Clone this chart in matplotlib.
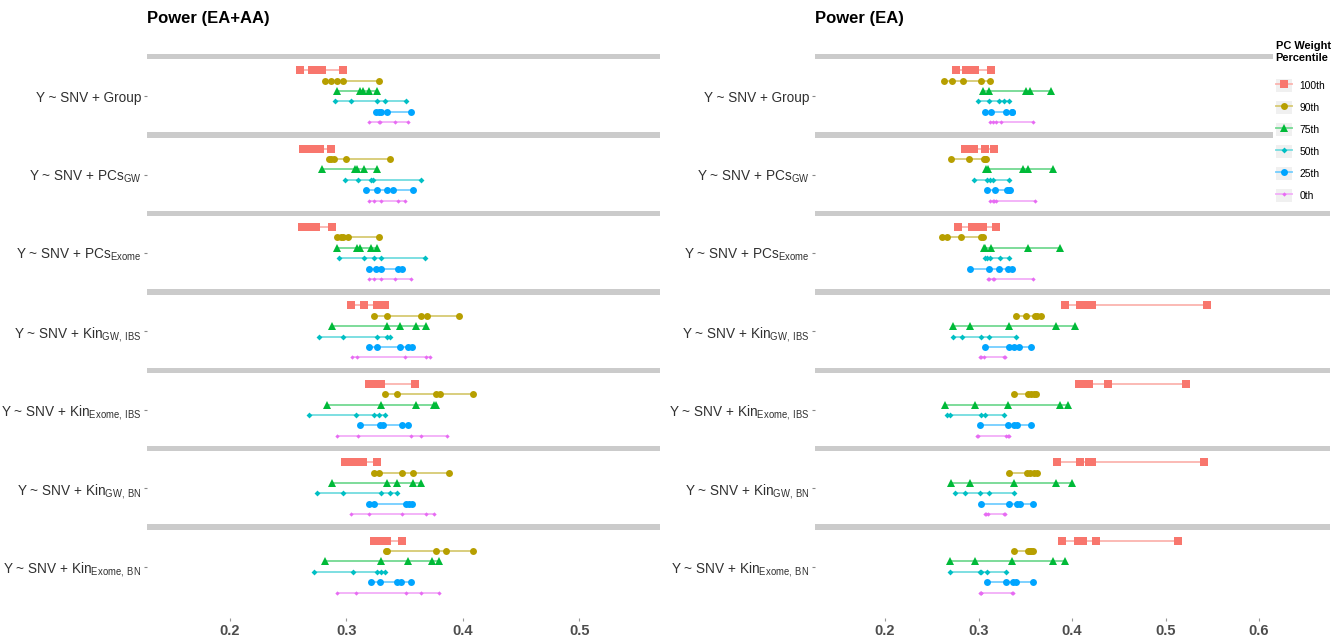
import numpy as np
import matplotlib
matplotlib.use("Agg")
import matplotlib.pyplot as plt
from matplotlib.lines import Line2D
from matplotlib.patches import Rectangle
from matplotlib.legend_handler import HandlerLine2D
from matplotlib.colors import to_rgb

plt.rcParams['font.family'] = ['Liberation Sans', 'DejaVu Sans']
plt.rcParams['mathtext.fontset'] = 'custom'
plt.rcParams['mathtext.rm'] = 'Liberation Sans'

# === Daten ===
models = [
    'Y ~ SNV + Group',
    r'Y ~ SNV + PC$\mathregular{s_{GW}}$',
    r'Y ~ SNV + PC$\mathregular{s_{Exome}}$',
    r'Y ~ SNV + Ki$\mathregular{n_{GW,\,IBS}}$',
    r'Y ~ SNV + Ki$\mathregular{n_{Exome,\,IBS}}$',
    r'Y ~ SNV + Ki$\mathregular{n_{GW,\,BN}}$',
    r'Y ~ SNV + Ki$\mathregular{n_{Exome,\,BN}}$',
]
percentiles = ['100th', '90th', '75th', '50th', '25th', '0th']

# Power (EA+AA): je Modell 5 Werte
ea_aa_100th = [[0.260, 0.270, 0.274, 0.279, 0.297], [0.263, 0.269, 0.273, 0.277, 0.287],
               [0.262, 0.266, 0.270, 0.274, 0.288], [0.304, 0.315, 0.326, 0.329, 0.333],
               [0.319, 0.323, 0.327, 0.330, 0.359], [0.299, 0.305, 0.310, 0.314, 0.326],
               [0.324, 0.327, 0.331, 0.335, 0.348]]
ea_aa_90th = [[0.282, 0.287, 0.292, 0.297, 0.328], [0.285, 0.287, 0.289, 0.300, 0.337],
              [0.292, 0.295, 0.297, 0.301, 0.328], [0.324, 0.335, 0.364, 0.369, 0.397],
              [0.333, 0.343, 0.377, 0.380, 0.409], [0.324, 0.328, 0.348, 0.357, 0.388],
              [0.334, 0.335, 0.377, 0.385, 0.409]]
ea_aa_75th = [[0.292, 0.312, 0.314, 0.319, 0.326], [0.279, 0.307, 0.309, 0.315, 0.326],
              [0.292, 0.309, 0.312, 0.321, 0.326], [0.288, 0.335, 0.346, 0.360, 0.368],
              [0.283, 0.330, 0.360, 0.375, 0.377], [0.288, 0.335, 0.343, 0.357, 0.364],
              [0.282, 0.330, 0.353, 0.373, 0.379]]
ea_aa_50th = [[0.290, 0.304, 0.326, 0.333, 0.351], [0.299, 0.310, 0.321, 0.323, 0.364],
              [0.294, 0.315, 0.324, 0.330, 0.367], [0.276, 0.297, 0.326, 0.335, 0.337],
              [0.268, 0.308, 0.324, 0.328, 0.333], [0.275, 0.297, 0.330, 0.337, 0.343],
              [0.272, 0.306, 0.326, 0.330, 0.333]]
ea_aa_25th = [[0.325, 0.328, 0.330, 0.335, 0.355], [0.317, 0.326, 0.335, 0.340, 0.357],
              [0.319, 0.325, 0.330, 0.344, 0.348], [0.319, 0.326, 0.346, 0.353, 0.356],
              [0.312, 0.329, 0.331, 0.348, 0.353], [0.319, 0.324, 0.351, 0.354, 0.356],
              [0.321, 0.329, 0.343, 0.347, 0.355]]
ea_aa_0th = [[0.319, 0.328, 0.329, 0.342, 0.353], [0.319, 0.324, 0.330, 0.344, 0.350],
             [0.319, 0.324, 0.330, 0.342, 0.355], [0.305, 0.309, 0.350, 0.368, 0.372],
             [0.292, 0.310, 0.355, 0.364, 0.386], [0.304, 0.319, 0.348, 0.368, 0.375],
             [0.292, 0.308, 0.351, 0.364, 0.379]]

# Power (EA)
ea_100th = [[0.276, 0.287, 0.292, 0.296, 0.313], [0.285, 0.289, 0.295, 0.307, 0.317],
            [0.278, 0.293, 0.299, 0.305, 0.319], [0.393, 0.409, 0.416, 0.421, 0.544],
            [0.407, 0.412, 0.418, 0.438, 0.522], [0.384, 0.409, 0.418, 0.421, 0.541],
            [0.389, 0.406, 0.412, 0.426, 0.513]]
ea_90th = [[0.263, 0.272, 0.283, 0.303, 0.312], [0.271, 0.290, 0.306, 0.307, 0.308],
           [0.261, 0.266, 0.281, 0.303, 0.305], [0.340, 0.351, 0.360, 0.363, 0.367],
           [0.338, 0.353, 0.356, 0.359, 0.361], [0.333, 0.352, 0.355, 0.359, 0.362],
           [0.338, 0.353, 0.355, 0.356, 0.358]]
ea_75th = [[0.305, 0.311, 0.351, 0.355, 0.378], [0.308, 0.310, 0.348, 0.353, 0.380],
           [0.306, 0.307, 0.313, 0.353, 0.387], [0.273, 0.291, 0.333, 0.383, 0.403],
           [0.264, 0.296, 0.331, 0.387, 0.396], [0.271, 0.291, 0.338, 0.383, 0.400],
           [0.269, 0.296, 0.336, 0.380, 0.393]]
ea_50th = [[0.299, 0.311, 0.322, 0.327, 0.333], [0.295, 0.309, 0.312, 0.316, 0.333],
           [0.307, 0.309, 0.312, 0.323, 0.333], [0.273, 0.282, 0.303, 0.311, 0.340],
           [0.266, 0.270, 0.303, 0.307, 0.327], [0.275, 0.286, 0.302, 0.311, 0.338],
           [0.270, 0.302, 0.303, 0.309, 0.329]]
ea_25th = [[0.307, 0.313, 0.329, 0.336, 0.336], [0.309, 0.318, 0.330, 0.333, 0.334],
           [0.291, 0.311, 0.322, 0.331, 0.336], [0.307, 0.333, 0.338, 0.343, 0.356],
           [0.302, 0.331, 0.338, 0.341, 0.356], [0.303, 0.333, 0.341, 0.344, 0.358],
           [0.309, 0.329, 0.337, 0.340, 0.358]]
ea_0th = [[0.312, 0.316, 0.319, 0.324, 0.358], [0.312, 0.315, 0.317, 0.319, 0.360],
          [0.310, 0.311, 0.315, 0.317, 0.358], [0.302, 0.303, 0.306, 0.327, 0.328],
          [0.298, 0.299, 0.329, 0.332, 0.333], [0.307, 0.308, 0.310, 0.327, 0.328],
          [0.302, 0.303, 0.303, 0.336, 0.337]]

ea_aa_ticks = [0.2, 0.3, 0.4, 0.5]
ea_ticks = [0.2, 0.3, 0.4, 0.5, 0.6]

# === Stil ===
colors = ['#F8766D', '#B79F00', '#00BA38', '#00BFC4', '#00A5FF', '#E76BF3']
markers = ['s', 'o', '^', 'D', 'o', 'D']
msizes = [5.2, 5.0, 5.6, 3.0, 5.0, 2.2]

FACET = 7.54      # Abstand zwischen Facetten (in Zeilen)
FIRST_ROW = 1.30  # Abstand Streifen -> erste Zeile
STRIP_H = 0.53
Y_TOP = -STRIP_H / 2
Y_BOTTOM = Y_TOP + 54.24


def lighten(c, amount=0.45):
    r, g, b = to_rgb(c)
    return (r + (1 - r) * amount, g + (1 - g) * amount, b + (1 - b) * amount)


class KeyHandler(HandlerLine2D):
    """Legendenschluessel mit hellgrauem Hintergrund (wie ggplot)."""

    def create_artists(self, legend, orig_handle, xdescent, ydescent,
                       width, height, fontsize, trans):
        bg = Rectangle((-xdescent, -ydescent), width, height,
                       facecolor='#F0F0F0', edgecolor='none', transform=trans)
        arts = super().create_artists(legend, orig_handle, xdescent, ydescent,
                                      width, height, fontsize, trans)
        return [bg] + list(arts)


def draw_panel(ax, series, xlim, ticks):
    for f in range(len(models)):
        ax.axhspan(f * FACET - STRIP_H / 2, f * FACET + STRIP_H / 2,
                   color='#CBCBCB', lw=0, zorder=1)
    for r, vals in enumerate(series):
        for f, row in enumerate(vals):
            y = f * FACET + FIRST_ROW + r
            ax.plot([min(row), max(row)], [y, y], color=lighten(colors[r]),
                    lw=1.3, zorder=2, solid_capstyle='butt')
            ax.plot(row, [y] * len(row), linestyle='none', marker=markers[r],
                    ms=msizes[r], color=colors[r], mew=0, zorder=3)

    ax.set_xlim(*xlim)
    ax.set_ylim(Y_BOTTOM, Y_TOP)
    ax.set_yticks([f * FACET + FIRST_ROW + 2.5 for f in range(len(models))])
    ax.set_yticklabels(models)
    ax.set_xticks(ticks)
    ax.set_xticklabels([f'{t:.1f}' for t in ticks], fontweight='bold')
    ax.tick_params(axis='y', length=2.5, width=0.8, color='#888888', pad=1.5,
                   labelsize=9.8, labelcolor='#303030')
    ax.tick_params(axis='x', length=2.5, width=0.8, color='#999999', pad=2,
                   labelsize=10.5, labelcolor='#4D4D4D')
    for s in ax.spines.values():
        s.set_visible(False)


def main() -> None:
    W, H = 1344, 644
    fig = plt.figure(figsize=(W / 100, H / 100), dpi=100)

    top_px, bot_px = 53.9, 618.0
    ax1 = fig.add_axes([147 / W, 1 - bot_px / H, 513 / W, (bot_px - top_px) / H])
    ax2 = fig.add_axes([815 / W, 1 - bot_px / H, 515 / W, (bot_px - top_px) / H])

    draw_panel(ax1, [ea_aa_100th, ea_aa_90th, ea_aa_75th, ea_aa_50th, ea_aa_25th, ea_aa_0th],
               (0.1288, 0.5691), ea_aa_ticks)
    draw_panel(ax2, [ea_100th, ea_90th, ea_75th, ea_50th, ea_25th, ea_0th],
               (0.1251, 0.6759), ea_ticks)

    fig.text(147 / W, 1 - 18 / H, 'Power (EA+AA)', fontweight='bold', fontsize=12, va='center')
    fig.text(815 / W, 1 - 18 / H, 'Power (EA)', fontweight='bold', fontsize=12, va='center')

    # === Legende ===
    handles = [Line2D([0], [0], color=lighten(c), lw=1.3, marker=m, ms=s,
                      markerfacecolor=c, markeredgecolor=c, mew=0)
               for c, m, s in zip(colors, markers, msizes)]
    leg = fig.legend(handles, percentiles, title='PC Weight\nPercentile',
                     loc='upper left', bbox_to_anchor=(1273 / W, 1 - 38 / H),
                     frameon=True, facecolor='white', edgecolor='none', framealpha=1,
                     fancybox=False, fontsize=7.4, alignment='left',
                     title_fontproperties={'weight': 'bold', 'size': 7.9},
                     handlelength=1.6, handleheight=1.6, labelspacing=0.85,
                     handletextpad=0.7, borderpad=0.25, borderaxespad=0,
                     handler_map={Line2D: KeyHandler()})
    leg.get_title().set_linespacing(1.25)
    leg._legend_box.sep = 12

    plt.savefig('out.png', dpi=100)


if __name__ == "__main__":
    main()
